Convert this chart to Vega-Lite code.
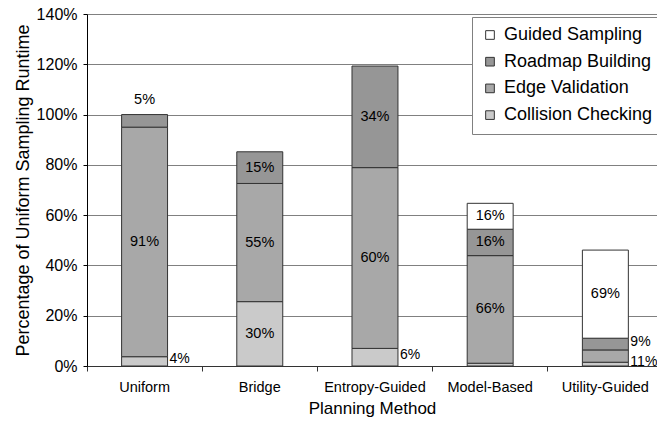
{
  "$schema": "https://vega.github.io/schema/vega-lite/v6.json",
  "width": 570,
  "height": 352,
  "autosize": {"type": "none"},
  "padding": {"left": 87, "top": 14, "right": 0, "bottom": 55},
  "background": "white",
  "config": {
    "font": "Liberation Sans",
    "view": {"stroke": null},
    "axis": {"labelColor": "black", "titleColor": "black", "titleFontWeight": "normal", "labelFont": "Liberation Sans", "titleFont": "Liberation Sans"},
    "axisY": {
      "titleFontSize": 18,
      "titlePadding": 4,
      "values": [0, 20, 40, 60, 80, 100, 120, 140],
      "labelExpr": "datum.value + '%'",
      "labelFontSize": 16,
      "labelPadding": 6,
      "tickSize": 4,
      "tickColor": "#000000",
      "domainColor": "#000000",
      "grid": true,
      "gridColor": "#808080",
      "gridWidth": 1
    }
  },
  "data": {
    "values": [
      {"method": "Uniform", "component": "Collision Checking", "rank": 1, "value": 3.7, "label": "4%", "placement": "right"},
      {"method": "Uniform", "component": "Edge Validation", "rank": 2, "value": 91.3, "label": "91%", "placement": "inside"},
      {"method": "Uniform", "component": "Roadmap Building", "rank": 3, "value": 5.0, "label": "5%", "placement": "above"},
      {"method": "Bridge", "component": "Collision Checking", "rank": 1, "value": 25.6, "label": "30%", "placement": "inside"},
      {"method": "Bridge", "component": "Edge Validation", "rank": 2, "value": 47.0, "label": "55%", "placement": "inside"},
      {"method": "Bridge", "component": "Roadmap Building", "rank": 3, "value": 12.6, "label": "15%", "placement": "inside"},
      {"method": "Entropy-Guided", "component": "Collision Checking", "rank": 1, "value": 7.0, "label": "6%", "placement": "right"},
      {"method": "Entropy-Guided", "component": "Edge Validation", "rank": 2, "value": 71.9, "label": "60%", "placement": "inside"},
      {"method": "Entropy-Guided", "component": "Roadmap Building", "rank": 3, "value": 40.4, "label": "34%", "placement": "inside"},
      {"method": "Model-Based", "component": "Collision Checking", "rank": 1, "value": 1.1, "label": "", "placement": "none"},
      {"method": "Model-Based", "component": "Edge Validation", "rank": 2, "value": 42.8, "label": "66%", "placement": "inside"},
      {"method": "Model-Based", "component": "Roadmap Building", "rank": 3, "value": 10.5, "label": "16%", "placement": "inside"},
      {"method": "Model-Based", "component": "Guided Sampling", "rank": 4, "value": 10.3, "label": "16%", "placement": "inside"},
      {"method": "Utility-Guided", "component": "Collision Checking", "rank": 1, "value": 1.5, "label": "11%", "placement": "right"},
      {"method": "Utility-Guided", "component": "Edge Validation", "rank": 2, "value": 4.9, "label": "", "placement": "none"},
      {"method": "Utility-Guided", "component": "Roadmap Building", "rank": 3, "value": 4.65, "label": "9%", "placement": "right"},
      {"method": "Utility-Guided", "component": "Guided Sampling", "rank": 4, "value": 35.05, "label": "69%", "placement": "inside"}
    ]
  },
  "encoding": {
    "x": {
      "field": "method",
      "type": "nominal",
      "sort": ["Uniform", "Bridge", "Entropy-Guided", "Model-Based", "Utility-Guided"],
      "scale": {"paddingInner": 0.601, "paddingOuter": 0.2745, "align": 0.547, "round": false},
      "axis": {
        "title": "Planning Method",
        "titleFontSize": 17,
        "titleY": 47,
        "titleBaseline": "alphabetic",
        "labelAngle": 0,
        "labelFontSize": 14.5,
        "labelPadding": 9,
        "tickSize": 5,
        "tickColor": "#333333",
        "domainColor": "#333333",
        "bandPosition": -0.752,
        "grid": false
      }
    },
    "y": {
      "field": "value",
      "type": "quantitative",
      "stack": "zero",
      "title": "Percentage of Uniform Sampling Runtime",
      "scale": {"domain": [0, 140], "nice": false}
    },
    "detail": {"field": "component", "type": "nominal"},
    "order": {"field": "rank", "type": "quantitative"}
  },
  "layer": [
    {
      "mark": {"type": "bar", "stroke": "#333333", "strokeWidth": 1},
      "encoding": {
        "color": {
          "field": "component",
          "type": "nominal",
          "scale": {
            "domain": ["Guided Sampling", "Roadmap Building", "Edge Validation", "Collision Checking"],
            "range": ["#ffffff", "#969696", "#a8a8a8", "#cacaca"]
          },
          "legend": {
            "orient": "none",
            "legendX": 385,
            "legendY": 3,
            "title": null,
            "fillColor": "white",
            "strokeColor": "#808080",
            "padding": 9,
            "symbolType": "square",
            "symbolSize": 75,
            "symbolStrokeColor": "#333333",
            "symbolStrokeWidth": 1,
            "labelFontSize": 18,
            "labelFont": "Liberation Sans",
            "labelColor": "black",
            "rowPadding": 8.7,
            "labelOffset": 5
          }
        }
      }
    },
    {
      "mark": {"type": "text", "fontSize": 14.5, "baseline": "middle", "align": "center", "color": "black"},
      "encoding": {
        "y": {"field": "value", "type": "quantitative", "stack": "zero", "bandPosition": 0.5, "title": "Percentage of Uniform Sampling Runtime", "scale": {"domain": [0, 140], "nice": false}},
        "text": {"condition": {"test": "datum.placement === 'inside'", "field": "label"}, "value": ""}
      }
    },
    {
      "mark": {"type": "text", "fontSize": 14, "baseline": "middle", "align": "left", "dx": 25, "dy": -2.5, "color": "black"},
      "encoding": {
        "y": {"field": "value", "type": "quantitative", "stack": "zero", "bandPosition": 0.5, "title": "Percentage of Uniform Sampling Runtime", "scale": {"domain": [0, 140], "nice": false}},
        "text": {"condition": {"test": "datum.placement === 'right'", "field": "label"}, "value": ""}
      }
    },
    {
      "mark": {"type": "text", "fontSize": 14.5, "baseline": "middle", "align": "center", "dy": -15, "color": "black"},
      "encoding": {
        "y": {"field": "value", "type": "quantitative", "stack": "zero", "bandPosition": 1, "title": "Percentage of Uniform Sampling Runtime", "scale": {"domain": [0, 140], "nice": false}},
        "text": {"condition": {"test": "datum.placement === 'above'", "field": "label"}, "value": ""}
      }
    }
  ]
}
